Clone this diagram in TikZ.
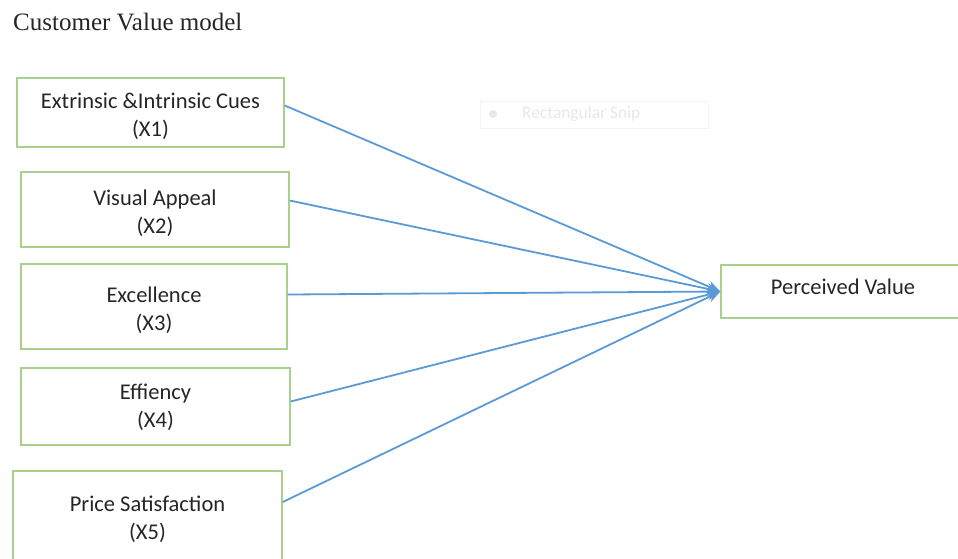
\documentclass[tikz,border=0pt]{standalone}
\usepackage{fontspec}
\setmainfont{Carlito}
\newfontfamily\titlefont{Liberation Serif}
\usetikzlibrary{arrows, arrows.meta}

\definecolor{boxgreen}{RGB}{169,209,142}
\definecolor{arrowblue}{RGB}{91,155,213}
\definecolor{snipgray}{RGB}{232,232,232}

\newcommand{\sinkby}[1]{\rule{0pt}{#1}}

\tikzset{
  factor/.style={draw=boxgreen, line width=1.4pt, align=center, inner sep=0pt,
    font=\fontsize{22.5}{28}\selectfont, text=black!85},
  link/.style={draw=arrowblue, line width=1.8pt, -{Stealth[length=13pt,width=11pt]}}
}

\begin{document}
\begin{tikzpicture}[x=1pt,y=-1pt]
\clip (0,0) rectangle (958,558);
\fill[white] (0,0) rectangle (958,558);
% title
\node[anchor=west, inner sep=0pt, font=\titlefont\fontsize{25}{28}\selectfont, text=black!85] (title) at (13,22) {Customer Value model};
% faint snip widget
\node[draw=snipgray!50, minimum width=228pt, minimum height=27pt] (snip) at (594,114.5) {};
\node[text=snipgray, font=\fontsize{17.4}{20}\selectfont, anchor=west, inner sep=0pt] (sniptxt) at (522,114) {Rectangular Snip};
\fill[snipgray] (493,114) circle (4);
% factors
\node[factor, minimum width=267pt, minimum height=69pt] (x1) at (150.5,112.5) {\sinkby{23pt}Extrinsic \&Intrinsic Cues\\(X1)};
\node[factor, minimum width=268pt, minimum height=75pt] (x2) at (155,209.5) {\sinkby{23pt}Visual Appeal\\(X2)};
\node[factor, minimum width=266pt, minimum height=85pt] (x3) at (154,306.5) {\sinkby{24pt}Excellence\\(X3)};
\node[factor, minimum width=269pt, minimum height=77pt] (x4) at (155.5,406.5) {\sinkby{17.5pt}Effiency\\(X4)};
\node[factor, minimum width=269pt, minimum height=92pt] (x5) at (147.5,517) {\sinkby{20.5pt}Price Satisfaction\\(X5)};
% outcome
\node[factor, minimum width=244pt, minimum height=53pt] (pv) at (843,291.5) {\raisebox{9pt}{Perceived Value}};
% arrows
\draw[link] ([yshift=7pt]x1.east) -- (pv.west);
\draw[link] ([yshift=9pt]x2.east) -- (pv.west);
\draw[link] ([yshift=12pt]x3.east) -- (pv.west);
\draw[link] ([yshift=5pt]x4.east) -- (pv.west);
\draw[link] ([yshift=15pt]x5.east) -- (pv.west);
\end{tikzpicture}
\end{document}
